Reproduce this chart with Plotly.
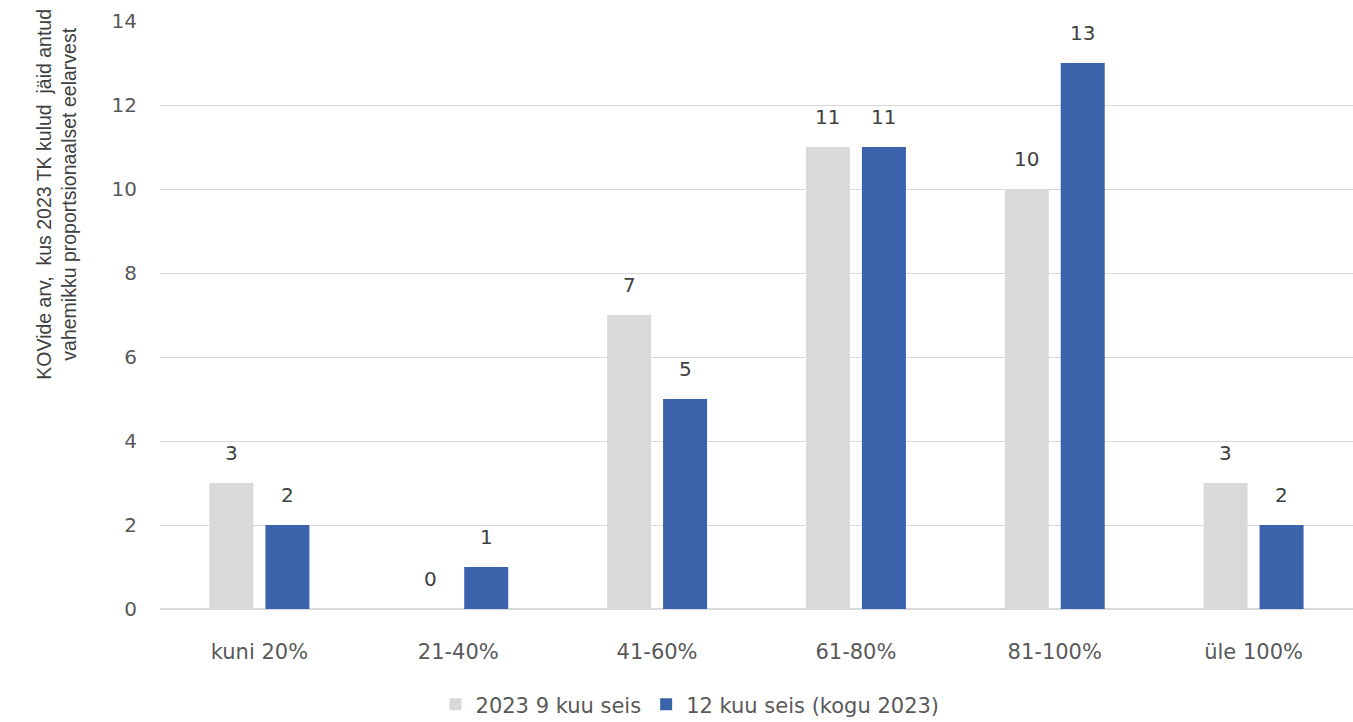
import plotly.graph_objects as go

categories = ["kuni 20%", "21-40%", "41-60%", "61-80%", "81-100%", "üle 100%"]
series_names = ["2023 9 kuu seis", "12 kuu seis (kogu 2023)"]
values_9m = [3, 0, 7, 11, 10, 3]
values_12m = [2, 1, 5, 11, 13, 2]
y_ticks = [0, 2, 4, 6, 8, 10, 12, 14]

FONT = "DejaVu Sans"
TITLE_FONT = "Liberation Sans"
TEXT = "#595959"
GRAY = "#D9D9D9"
BLUE = "#3A63AB"

fig = go.Figure()
fig.add_trace(go.Bar(name=series_names[0], x=categories, y=values_9m,
                     marker=dict(color=GRAY, line=dict(width=0))))
fig.add_trace(go.Bar(name=series_names[1], x=categories, y=values_12m,
                     marker=dict(color=BLUE, line=dict(width=0))))

# value labels above each bar, offset to the bar's slot in the group
for vals, shift in ((values_9m, -28), (values_12m, 28)):
    for c, v in zip(categories, vals):
        fig.add_annotation(x=c, y=v, text=str(v), showarrow=False,
                           xshift=shift, yshift=30,
                           font=dict(family=FONT, size=20, color="#404040"))

# two-line y-axis caption
fig.add_annotation(xref="paper", yref="paper", x=-0.087, y=0.705,
                   xanchor="center", yanchor="middle", textangle=-90,
                   text="KOVide arv,  kus 2023 TK kulud  jäid antud<br>vahemikku proportsionaalset eelarvest",
                   showarrow=False, align="center",
                   font=dict(family=TITLE_FONT, size=19.5, color="#404040"))

fig.update_layout(
    width=1353, height=722,
    margin=dict(l=160, r=0, t=21, b=113, autoexpand=False),
    paper_bgcolor="white", plot_bgcolor="white",
    barmode="group", bargap=0.437, bargroupgap=0.214,
    font=dict(family=FONT, color=TEXT, size=20),
    showlegend=True,
    legend=dict(orientation="h", xref="container", yref="container",
                x=0.51, y=0.024, xanchor="center", yanchor="middle",
                font=dict(family=FONT, size=21, color=TEXT), itemwidth=30,
                traceorder="normal"),
    xaxis=dict(showgrid=False, showline=True, linecolor=GRAY, linewidth=1,
               ticks="", ticklabelstandoff=24,
               tickfont=dict(family=FONT, size=21, color=TEXT)),
    yaxis=dict(range=[0, 14], tickvals=y_ticks, showgrid=True, gridcolor=GRAY,
               gridwidth=1, zeroline=True, zerolinecolor=GRAY, showline=False,
               ticks="", ticklabelstandoff=22,
               tickfont=dict(family=FONT, size=20, color=TEXT)),
)

fig.write_html("out.html")
